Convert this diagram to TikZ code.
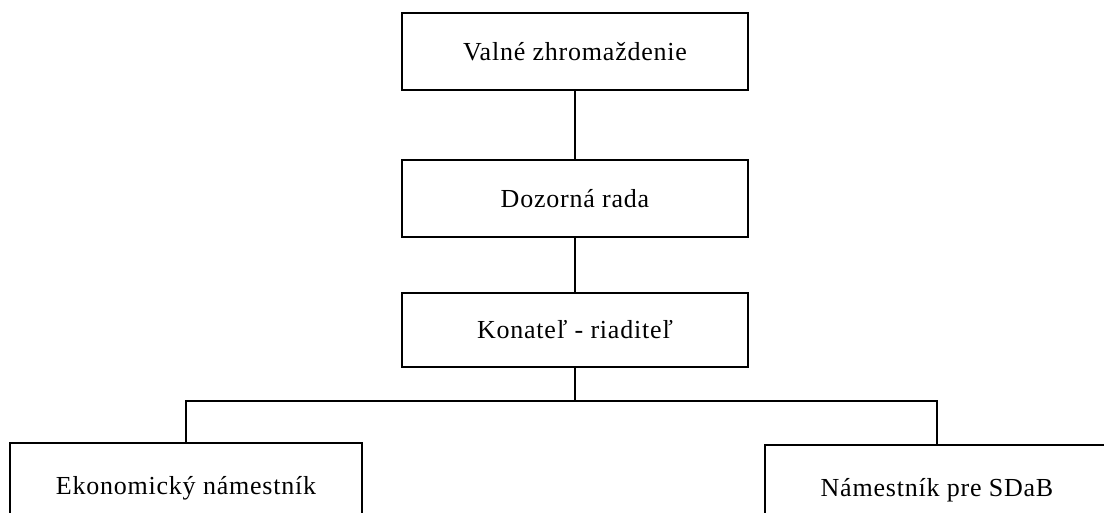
\documentclass[tikz,border=0pt]{standalone}
\usepackage{fontspec}
\setmainfont[LetterSpace=3]{Liberation Serif}
\usepackage{tikz}

\begin{document}
\begin{tikzpicture}[x=1pt, y=-1pt, line width=1.6pt,
    box/.style={draw, minimum width=346pt, minimum height=77pt, inner sep=0pt, font=\fontsize{26}{31}\selectfont}]
    % rámec obrázka
    \useasboundingbox (0,0) rectangle (1104,513);
    \clip (0,0) rectangle (1104,513);

    % 1. Uzly
    \node[box] (valne) at (575,51.5) {Valné zhromaždenie};
    \node[box] (dozor) at (575,198.5) {Dozorná rada};
    \node[box, minimum height=74pt] (konatel) at (575,330) {Konateľ - riaditeľ};
    \node[box, minimum width=352pt, minimum height=90pt] (ekon) at (186,488) {Ekonomický námestník};
    \node[box, minimum width=344pt, minimum height=90pt] (sdab) at (937,490) {Námestník pre SDaB};

    % 2. Spojnice
    \draw (valne) -- (dozor);
    \draw (dozor) -- (konatel);
    \coordinate (vetva) at (575,401);
    \draw (konatel) -- (vetva);
    \draw (ekon.north) |- (vetva) -| (sdab.north);
\end{tikzpicture}
\end{document}
